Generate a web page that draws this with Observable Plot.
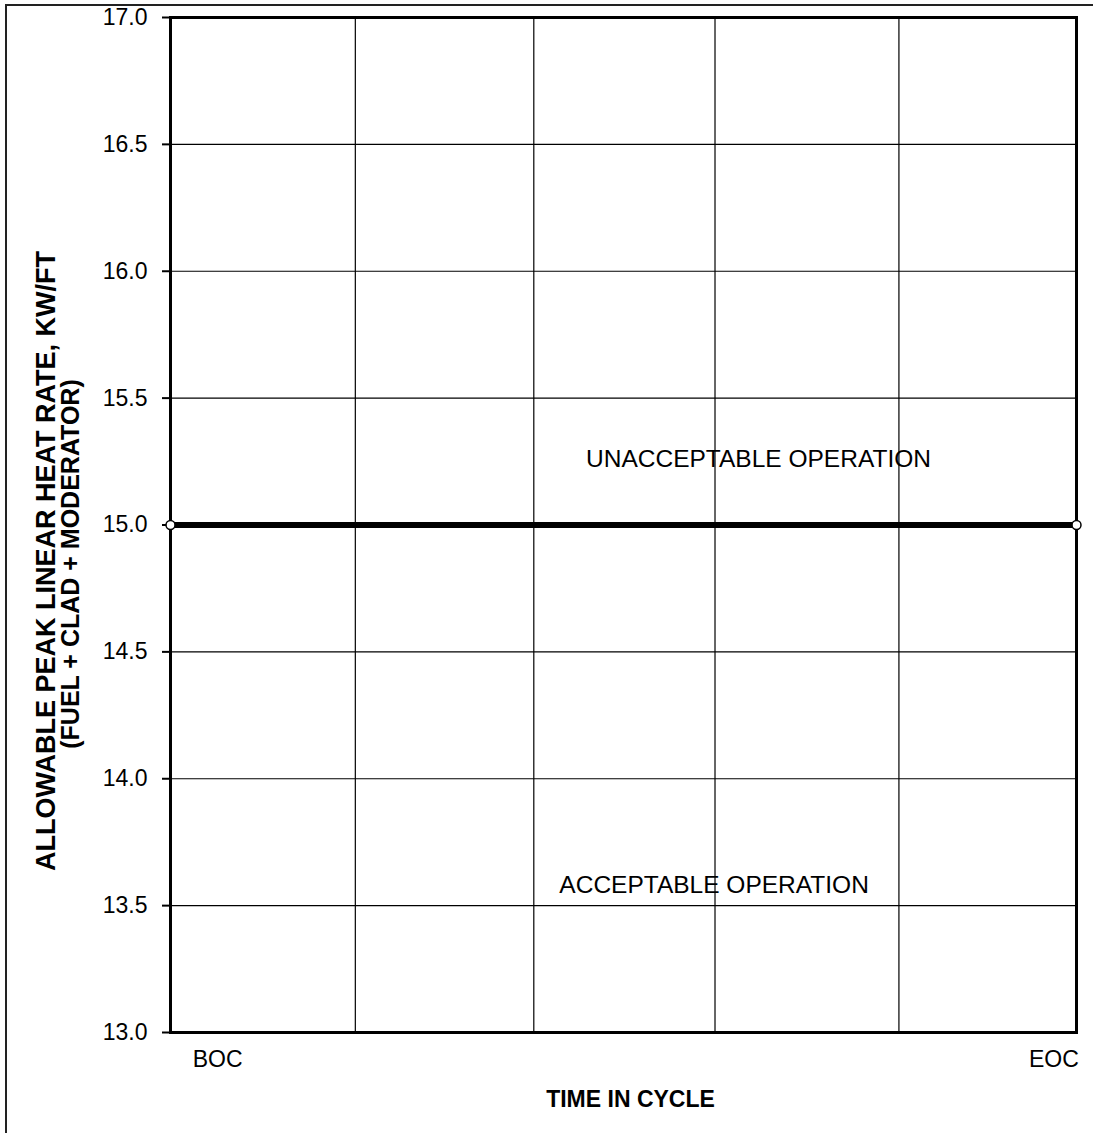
<!DOCTYPE html>
<html><head><meta charset="utf-8">
<script src="https://cdn.jsdelivr.net/npm/d3@7"></script>
<script src="https://cdn.jsdelivr.net/npm/@observablehq/plot@0.6"></script>
<style>
html,body{margin:0;padding:0;background:#fff;}
#wrap{position:relative;width:1093px;height:1133px;overflow:hidden;}
#wrap svg{position:absolute;left:0;top:0;}
#border{position:absolute;left:5px;top:4px;width:1100px;height:1127px;border-left:2px solid #222;border-top:2px solid #222;border-bottom:1px solid #ccc;pointer-events:none;}
</style></head><body><div id="wrap"><div id="border"></div></div>
<script>
// Data
const yTicks = [13.0, 13.5, 14.0, 14.5, 15.0, 15.5, 16.0, 16.5, 17.0];
const gridX = [0, 0.204, 0.401, 0.601, 0.804, 1];
const timeLabels = ["BOC", "EOC"];
const timeLabelPos = [0.052, 0.975];
const limitTime = [0, 1];
const limitValue = [15.0, 15.0];
const regionNames = ["UNACCEPTABLE OPERATION", "ACCEPTABLE OPERATION"];
const regionTime = [0.649, 0.600];
const regionValue = [15.26, 13.58];
const yLabelLine1 = "ALLOWABLE PEAK LINEAR HEAT RATE, KW/FT";
const yLabelLine2 = "(FUEL + CLAD + MODERATOR)";
const xLabel = "TIME IN CYCLE";

const limit = limitTime.map((t, i) => ({t, v: limitValue[i]}));
const regions = regionNames.map((name, i) => ({name, t: regionTime[i], v: regionValue[i]}));

const chart = Plot.plot({
  width: 1093, height: 1133,
  marginLeft: 170, marginRight: 17, marginTop: 17, marginBottom: 101,
  style: {fontFamily: "'Liberation Sans', Arial, sans-serif", color: "#000", background: "transparent"},
  x: {domain: [0, 1]},
  y: {domain: [13, 17]},
  marks: [
    Plot.ruleY(yTicks, {stroke: "#000", strokeWidth: 1.2}),
    Plot.ruleX(gridX, {stroke: "#000", strokeWidth: 1.2}),
    Plot.frame({stroke: "#000", strokeWidth: 3}),
    Plot.axisY({ticks: yTicks, tickFormat: d => d.toFixed(1), tickSize: 8, tickPadding: 15, fontSize: 23, label: null, strokeWidth: 2}),
    Plot.axisX({ticks: timeLabelPos, tickFormat: d => timeLabels[timeLabelPos.indexOf(d)], tickSize: 0, tickPadding: 18, fontSize: 23, label: null}),
    Plot.line(limit, {x: "t", y: "v", stroke: "#000", strokeWidth: 6}),
    Plot.dot(limit, {x: "t", y: "v", r: 4.5, fill: "#fff", stroke: "#000", strokeWidth: 1.5}),
    Plot.text(regions, {x: "t", y: "v", text: "name", fontSize: 24.5}),
    Plot.text([yLabelLine1], {frameAnchor: "left", rotate: -90, dx: -124, dy: 36, fontSize: 27, fontWeight: "bold", textAnchor: "middle"}),
    Plot.text([yLabelLine2], {frameAnchor: "left", rotate: -90, dx: -100, dy: 39, fontSize: 25, fontWeight: "bold", textAnchor: "middle"}),
    Plot.text([xLabel], {frameAnchor: "bottom", dx: 7, dy: 74, fontSize: 23, fontWeight: "bold"})
  ]
});
document.getElementById("wrap").prepend(chart);
</script>
</body></html>
